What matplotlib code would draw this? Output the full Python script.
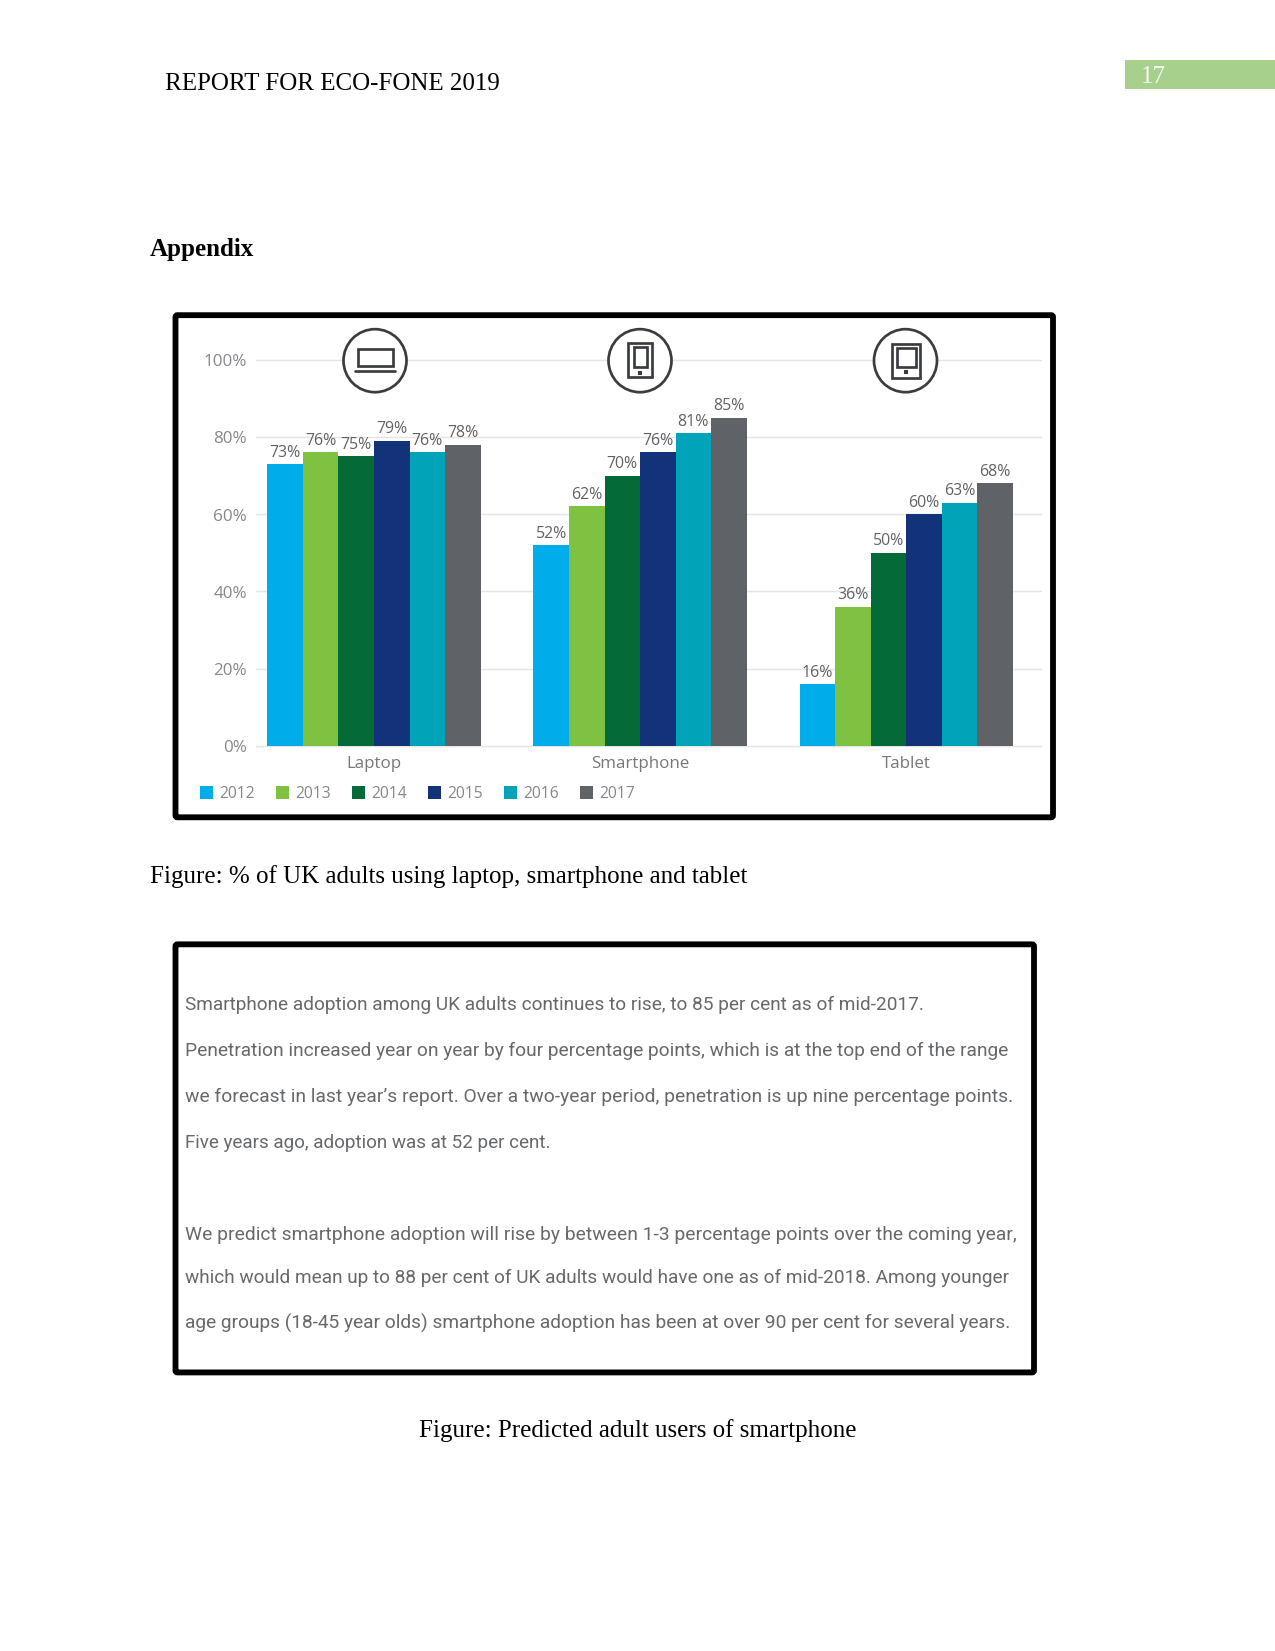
import matplotlib
matplotlib.use('Agg')
import matplotlib.pyplot as plt
import matplotlib.patches as mpatches
import numpy as np

# Valores de la grafica
categorias = ['Laptop', 'Smartphone', 'Tablet']
anios = ['2012', '2013', '2014', '2015', '2016', '2017']
laptop = [73, 76, 75, 79, 76, 78]
smartphone = [52, 62, 70, 76, 81, 85]
tablet = [16, 36, 50, 60, 63, 68]
y_ticks = [0, 20, 40, 60, 80, 100]
y_labels = ['0%', '20%', '40%', '60%', '80%', '100%']

parrafo = [
    "Smartphone adoption among UK adults continues to rise, to 85 per cent as of mid-2017.",
    "Penetration increased year on year by four percentage points, which is at the top end of the range",
    "we forecast in last year\u2019s report. Over a two-year period, penetration is up nine percentage points.",
    "Five years ago, adoption was at 52 per cent.",
    "We predict smartphone adoption will rise by between 1-3 percentage points over the coming year,",
    "which would mean up to 88 per cent of UK adults would have one as of mid-2018. Among younger",
    "age groups (18-45 year olds) smartphone adoption has been at over 90 per cent for several years.",
]
parrafo_y = [1005, 1051, 1097, 1143, 1235, 1278, 1323]
parrafo_fin = [926, 1011, 1013, 553, 1013, 1011, 1009]

colores = ['#00ADEA', '#7FC241', '#046A38', '#12337A', '#00A3B8', '#5F6368']
GRIS = '#5F6266'
W, H = 1275, 1651

fig = plt.figure(figsize=(W / 150, (H + 0.4) / 150), dpi=150, facecolor='white')


def caja(x0, x1, y0, y1):
    """Posicion de un axes a partir de pixeles de la pagina."""
    return [x0 / W, 1 - y1 / H, (x1 - x0) / W, (y1 - y0) / H]


# Grafica de barras
ax = fig.add_axes(caja(256, 1042, 348.4, 749.9))
ax.set_ylim(-1, 103)
ax.set_xlim(-0.4436, 2.511)
ancho = 0.1335
x = np.arange(len(categorias))
series = np.array([laptop, smartphone, tablet]).T
for i, anio in enumerate(anios):
    barras = ax.bar(x + (i - 2.5) * ancho, series[i], width=ancho, color=colores[i],
                    label=anio, zorder=3)
    ax.bar_label(barras, labels=['{}%'.format(v) for v in series[i]], padding=1.8,
                 fontsize=7.6, color=GRIS, family='Open Sans', zorder=4)

ax.set_yticks(y_ticks)
ax.set_yticklabels(y_labels, fontsize=8.2, color='#85888B', family='Open Sans')
ax.set_xticks(x)
ax.set_xticklabels(categorias, fontsize=8.1, color='#75787B', family='Open Sans')
ax.tick_params(axis='y', length=0, pad=4.3)
ax.tick_params(axis='x', length=0, pad=3)
ax.grid(axis='y', color='#E3E5E7', linewidth=0.7, zorder=1)
ax.set_axisbelow(True)
for s in ax.spines.values():
    s.set_visible(False)
ax.patch.set_alpha(0)

ax.legend(loc='lower left', bbox_to_anchor=(caja(200, 700, 778, 802)[0], caja(200, 700, 778, 802)[1]),
          bbox_transform=fig.transFigure, ncol=6, frameon=False, borderpad=0, borderaxespad=0,
          handlelength=0.85, handleheight=0.85, handletextpad=0.38, columnspacing=1.35,
          labelcolor='#85888B', prop={'family': 'Open Sans', 'size': 7.5})

# Capa de la pagina, en pixeles
pag = fig.add_axes([0, 0, 1, 1])
pag.set_xlim(0, W)
pag.set_ylim(H, 0)
pag.axis('off')
pag.patch.set_alpha(0)

serif = 'Liberation Serif'
pag.text(165, 84, 'REPORT FOR ECO-FONE 2019', fontsize=12, family=serif, va='center', color='black')
pag.add_patch(mpatches.Rectangle((1125, 60), 150, 29, color='#A8D08D', lw=0))
pag.text(1141, 77, '17', fontsize=12, family=serif, va='center', color='#F4F8EE')
pag.text(150, 249, 'Appendix', fontsize=12, family=serif, weight='bold', va='center')
pag.text(150, 876.5, 'Figure: % of UK adults using laptop, smartphone and tablet', fontsize=12,
         family=serif, va='center')
pag.text(637.5, 1430, 'Figure: Predicted adult users of smartphone', fontsize=12, family=serif,
         va='center', ha='center')

# Marcos negros
for x0, x1, y0, y1 in [(175.5, 1053, 315.5, 817.5), (175.5, 1034, 944.5, 1372.5)]:
    pag.add_patch(mpatches.FancyBboxPatch((x0, y0), x1 - x0, y1 - y0, boxstyle='round,pad=0,rounding_size=2',
                                          fc='none', ec='black', lw=2.8))

# Iconos
TINTA = '#3A3D40'
for cx in [375, 640, 905.5]:
    pag.add_patch(mpatches.Circle((cx, 361), 31.5, fc='white', ec=TINTA, lw=1.3, zorder=5))


def rect(x0, x1, y0, y1, lw=1.3):
    pag.add_patch(mpatches.Rectangle((x0, y0), x1 - x0, y1 - y0, fc='none', ec=TINTA, lw=lw, zorder=6))


rect(358, 392.5, 349.5, 366.5)
pag.plot([355, 395], [371.5, 371.5], color=TINTA, lw=1.3, zorder=6, solid_capstyle='round')
rect(628, 652, 343.5, 377.5)
rect(634, 647, 347.5, 367)
pag.plot([640], [373], 's', color=TINTA, ms=1.2, zorder=6)
rect(892, 920, 344, 378)
rect(897, 916, 348.5, 367)
pag.plot([906], [372.5], 's', color=TINTA, ms=1.2, zorder=6)

# Texto de la segunda imagen: cada linea se ajusta a su ancho
render = fig.canvas.get_renderer()
for linea, y, fin in zip(parrafo, parrafo_y, parrafo_fin):
    t = pag.text(185, y, linea, fontsize=12, color='#66696C', va='center', family='Roboto')
    ancho_px = t.get_window_extent(render).width
    t.set_fontsize(12 * (fin - 185) / ancho_px)

fig.savefig('out.png', dpi=150)
